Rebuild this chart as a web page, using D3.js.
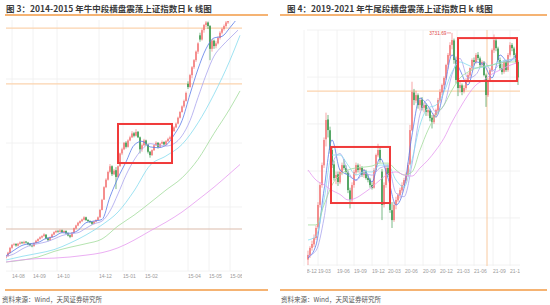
<!DOCTYPE html>
<html lang="zh">
<head>
<meta charset="UTF-8">
<title>上证指数日k线图</title>
<script src="https://d3js.org/d3.v7.min.js"></script>
<style>
  body { margin: 0; background: #fff; }
  svg { display: block; font-family: "Noto Sans CJK SC", "Noto Sans", sans-serif; }
</style>
</head>
<body>
<svg id="chart" width="550" height="305"></svg>
<script>
// ---- 图3: 2014-2015, candles [open, high, low, close]
const leftCandles = [
  [2070,2090,2062,2080],[2082,2118,2078,2110],[2108,2158,2104,2150],[2150,2182,2142,2175],
  [2176,2192,2168,2180],[2182,2190,2160,2170],[2168,2192,2162,2185],[2184,2205,2178,2195],
  [2196,2204,2182,2190],[2188,2210,2184,2200],[2202,2208,2186,2195],[2194,2200,2172,2180],
  [2182,2190,2162,2170],[2168,2178,2155,2165],[2164,2196,2160,2190],[2190,2218,2185,2210],
  [2208,2232,2200,2225],[2226,2248,2218,2240],[2238,2258,2230,2250],[2250,2275,2244,2265],
  [2262,2268,2222,2230],[2232,2240,2205,2215],[2214,2246,2210,2240],[2240,2272,2235,2265],
  [2264,2292,2258,2285],[2284,2304,2276,2295],[2296,2302,2280,2290],[2288,2310,2282,2300],
  [2302,2308,2278,2285],[2284,2302,2278,2295],[2296,2300,2268,2275],[2276,2282,2248,2255],
  [2256,2262,2232,2245],[2244,2286,2240,2280],[2280,2326,2276,2320],[2318,2352,2312,2345],
  [2344,2378,2338,2370],[2368,2392,2360,2385],[2384,2408,2376,2400],[2398,2430,2392,2420],
  [2420,2426,2386,2395],[2396,2402,2376,2385],[2386,2392,2366,2375],[2376,2384,2350,2360],
  [2360,2388,2356,2380],[2380,2402,2374,2395],[2394,2428,2390,2420],[2420,2500,2416,2490],
  [2490,2600,2486,2590],[2592,2730,2588,2720],[2720,2815,2710,2800],[2800,2900,2790,2885],
  [2886,2975,2870,2950],[2950,2960,2840,2860],[2860,2920,2850,2900],[2905,2940,2700,2830],
  [2830,2960,2820,2950],[2950,3110,2945,3100],[3100,3170,3080,3150],[3150,3240,3140,3230],
  [3232,3250,3160,3180],[3180,3275,3170,3260],[3260,3320,3250,3300],[3300,3380,3290,3350],
  [3352,3370,3300,3320],[3320,3406,3310,3370],[3372,3380,3290,3300],[3300,3310,3100,3150],
  [3150,3220,3120,3200],[3200,3280,3190,3260],[3260,3270,3190,3210],[3210,3220,3100,3120],
  [3120,3130,3049,3080],[3080,3150,3070,3140],[3140,3210,3130,3200],[3200,3250,3190,3230],
  [3230,3240,3160,3180],[3180,3230,3170,3220],[3220,3260,3210,3240],[3240,3250,3195,3210],
  [3210,3265,3200,3250],[3250,3295,3240,3280],[3280,3320,3270,3300],[3300,3395,3290,3380],
  [3380,3445,3370,3430],[3430,3495,3420,3480],[3480,3575,3470,3560],[3560,3655,3550,3640],
  [3640,3735,3630,3720],[3720,3820,3700,3800],[3800,3940,3790,3920],[4060,4100,3980,4010],
  [4010,4220,4000,4200],[4200,4350,4150,4330],[4330,4470,4300,4450],[4450,4620,4420,4600],
  [4600,4770,4560,4750],[4900,4950,4780,4820],[4820,5030,4800,5000],[5000,5120,4950,5100],
  [5100,5180,5060,5150],[5150,5170,5020,5080],[5080,5100,4450,4650],[4650,4830,4600,4800],
  [4800,4820,4650,4700],[4700,4790,4660,4750],[4750,4880,4730,4850],[4850,4980,4820,4950],
  [4950,5050,4920,5020],[5020,5110,4990,5080],[5080,5180,5050,5150],[5150,5280,5120,5250],
  [5250,5380,5220,5350],[5350,5370,5260,5300],[5300,5430,5280,5400],[5400,5480,5370,5450],
  [5450,5460,5350,5380],[5380,5400,5300,5350]
];
// moving averages, sampled at candle index
const leftShortIdx = [0,4,8,12,16,20,24,28,32,36,40,44,48,52,56,60,64,68,72,76,80,84,88,92,96,100,104,108,112,116];
const leftMaBlue     = [2085,2130,2170,2185,2195,2230,2245,2280,2275,2300,2370,2385,2400,2620,2820,3000,3200,3250,3180,3170,3200,3330,3520,3900,4300,4650,4850,4880,5050,5250];
const leftMaLavender = [2080,2100,2140,2170,2185,2200,2225,2255,2270,2280,2320,2360,2385,2480,2650,2850,3020,3150,3220,3200,3190,3220,3320,3520,3850,4200,4520,4700,4850,5000];
const leftLongIdx = [0,8,16,24,32,40,48,56,64,72,80,88,96,104,112,117];
const leftMaCyan   = [2051,2080,2105,2135,2190,2260,2350,2470,2680,2960,3070,3210,3490,3900,4450,4900];
const leftMaGreen  = [2035,2050,2075,2120,2155,2185,2225,2340,2440,2560,2690,2820,3030,3350,3690,3950];
const leftMaViolet = [2035,2052,2062,2066,2075,2090,2110,2150,2215,2295,2375,2470,2590,2720,2870,2970];
const leftTickIdx = [3,13.5,25.5,46.5,58.5,69.5,91,101.5,112];
const leftTickLabels = ["14-08","14-09","14-10","14-12","15-01","15-02","15-04","15-05","15-06"];
const leftGridVals = [1965,2519,3228,4137];
const leftRefVals = [5040,4060,2313];
const leftBox = [56,83,3475,2987];

// ---- 图4: 2019-2021
const rightCandles = [
  [2470,2520,2440,2496],[2495,2545,2480,2535],[2535,2575,2520,2557],[2555,2610,2540,2590],
  [2590,2660,2580,2646],[2650,2790,2640,2774],[2775,2900,2760,2885],[2885,3010,2870,2996],
  [2995,3150,2980,3136],[3140,3288,3100,3247],[3250,3275,3150,3191],[3190,3210,3060,3080],
  [3080,3100,2980,2996],[3000,3020,2910,2924],[2925,2960,2890,2941],[2945,2960,2880,2902],
  [2900,2975,2890,2958],[2955,3010,2940,2996],[2995,3030,2970,2980],[2980,2995,2945,2958],
  [2955,2965,2840,2857],[2855,2870,2755,2802],[2800,2900,2790,2885],[2885,2970,2870,2958],
  [2955,3010,2940,2996],[2995,3005,2955,2969],[2970,3000,2950,2980],[2980,2990,2930,2941],
  [2940,2975,2925,2958],[2960,2970,2915,2924],[2925,2945,2900,2913],[2915,2925,2870,2885],
  [2885,2900,2860,2869],[2870,2980,2865,2969],[2970,3060,2960,3052],[3050,3115,3040,3080],
  [3080,3095,3010,3024],[2960,2975,2690,2774],[2775,2900,2760,2885],[2885,3000,2870,2980],
  [2980,3000,2930,2941],[2940,2950,2730,2746],[2745,2790,2646,2690],[2690,2790,2680,2774],
  [2775,2820,2750,2802],[2800,2840,2790,2830],[2830,2870,2810,2857],[2855,2900,2840,2885],
  [2885,2925,2870,2913],[2910,2955,2895,2941],[2940,3010,2930,2996],[3000,3220,2995,3191],
  [3190,3460,3185,3403],[3400,3420,3330,3358],[3355,3410,3340,3386],[3385,3395,3310,3330],
  [3330,3370,3300,3358],[3360,3375,3300,3314],[3315,3345,3290,3330],[3330,3340,3270,3292],
  [3290,3320,3270,3303],[3300,3310,3240,3258],[3260,3275,3200,3236],[3235,3285,3225,3275],
  [3275,3310,3260,3303],[3300,3370,3290,3358],[3355,3420,3340,3403],[3400,3450,3385,3442],
  [3440,3490,3420,3481],[3480,3560,3470,3553],[3555,3620,3530,3609],[3605,3680,3590,3664],
  [3665,3731.69,3640,3692],[3690,3700,3560,3581],[3580,3600,3450,3470],[3470,3490,3380,3425],
  [3425,3460,3400,3442],[3440,3450,3385,3403],[3405,3440,3395,3425],[3425,3480,3415,3470],
  [3470,3510,3455,3497],[3495,3540,3480,3536],[3535,3590,3520,3581],[3580,3595,3550,3570],
  [3570,3620,3560,3609],[3610,3625,3580,3592],[3590,3600,3540,3553],[3555,3580,3540,3570],
  [3570,3575,3490,3497],[3495,3505,3320,3386],[3385,3480,3375,3470],[3470,3535,3460,3525],
  [3525,3645,3515,3636],[3635,3723,3620,3692],[3690,3700,3630,3647],[3645,3655,3570,3581],
  [3580,3595,3525,3536],[3535,3560,3500,3514],[3515,3580,3505,3570],[3570,3580,3515,3525],
  [3525,3620,3515,3609],[3610,3680,3600,3664],[3665,3675,3630,3647],[3645,3655,3595,3609],
  [3610,3620,3560,3570],[3570,3580,3442,3484]
];
const rightMaIdx = [0,4,8,12,16,20,24,28,32,36,40,44,48,52,56,60,64,68,72,76,80,84,88,92,96,100,104];
const rightMaBlue     = [2479,2551,2857,3136,2969,2941,2913,2969,2902,3035,2924,2774,2868,3163,3369,3325,3264,3414,3609,3525,3442,3570,3553,3481,3609,3570,3609];
const rightMaLavender = [2490,2520,2700,3000,3060,2960,2910,2950,2940,2980,2990,2840,2820,3000,3280,3360,3290,3330,3500,3590,3480,3500,3570,3520,3560,3580,3590];
const rightMaCyan     = [2579,2601,2802,3052,3052,2996,2941,2958,2958,2996,2996,2913,2874,3024,3219,3314,3330,3403,3514,3570,3553,3536,3542,3553,3570,3581,3581];
const rightMaGreen    = [2663,2663,2774,2885,2941,2969,2980,2985,2991,3007,3007,2969,2941,2958,3080,3191,3275,3330,3414,3481,3514,3536,3547,3553,3564,3570,3570];
const rightMaViolet   = [2969,2913,2886,2855,2833,2802,2813,2841,2874,2913,2946,2958,2941,2935,2980,3024,3080,3146,3236,3314,3386,3442,3470,3503,3525,3547,3564];
const rightTickIdx = [-2,5,14.5,23,32,40,48.5,57.5,66,74.5,83,92.5,101];
const rightTickLabels = ["18-12","19-03","19-06","19-09","19-12","20-03","20-06","20-09","20-12","21-03","21-06","21-09","21-12"];
const rightGridVals = [2440,2702,2963,3225,3486,3748];
const rightRefVal = 3408;
const rightRefIdx = 89.5;
const rightBoxes = [[11.5,41,3097,2785],[75,104.5,3703,3464]];
const rightPeak = {idx: 72, value: 3731.69};

const svg = d3.select("#chart");
const UP = "#f26a6a", DOWN = "#1f8a35";
const maColors = ["#5b7be8", "#aaa4ee", "#86dcef", "#a2dc9c", "#e69bf0"];

function header(x0, lineX1, lineX2, title, titleX) {
  svg.append("text").attr("x", titleX).attr("y", 11.5)
    .attr("font-size", 8.5).attr("font-weight", "bold").attr("fill", "#3a3a3a")
    .text(title);
  svg.append("line").attr("x1", lineX1).attr("x2", lineX2).attr("y1", 15).attr("y2", 15)
    .attr("stroke", "#f29a45").attr("stroke-width", 1.4);
  svg.append("line").attr("x1", lineX1).attr("x2", lineX2).attr("y1", 290).attr("y2", 290)
    .attr("stroke", "#f29a45").attr("stroke-width", 1.4);
  svg.append("text").attr("x", x0).attr("y", 302)
    .attr("font-size", 6.5).attr("fill", "#555")
    .text("资料来源：Wind，天风证券研究所");
}

function drawPanel(cfg) {
  const x = cfg.x, y = cfg.y, p = cfg.plot;
  const id = cfg.id;
  svg.append("clipPath").attr("id", id + "clip").append("rect")
    .attr("x", p.left).attr("y", p.top).attr("width", p.right - p.left).attr("height", p.bottom - p.top);
  svg.append("clipPath").attr("id", id + "lab").append("rect")
    .attr("x", p.left).attr("y", p.bottom).attr("width", p.right - p.left).attr("height", 14);

  const grid = svg.append("g");
  grid.selectAll(".hg").data(cfg.gridVals).join("line")
    .attr("x1", p.left).attr("x2", p.right)
    .attr("y1", d => y(d)).attr("y2", d => y(d))
    .attr("stroke", "#efefef").attr("stroke-width", 0.8);
  grid.selectAll(".vg").data(cfg.tickIdx).join("line")
    .attr("x1", d => x(d)).attr("x2", d => x(d))
    .attr("y1", p.gridTop).attr("y2", p.bottom)
    .attr("stroke", "#efefef").attr("stroke-width", 0.8);

  svg.append("g").attr("clip-path", `url(#${id}lab)`)
    .selectAll("text").data(cfg.tickIdx).join("text")
    .attr("x", d => x(d)).attr("y", p.bottom + 7)
    .attr("font-size", 5).attr("fill", "#9a9a9a")
    .attr("font-family", "Liberation Sans, sans-serif")
    .text((d, i) => cfg.tickLabels[i]);

  const g = svg.append("g").attr("clip-path", `url(#${id}clip)`);
  cfg.refs(g);

  const w = cfg.candleW;
  const c = g.append("g").selectAll("g").data(cfg.candles).join("g");
  c.append("line")
    .attr("x1", (d, i) => x(i)).attr("x2", (d, i) => x(i))
    .attr("y1", d => y(d[1])).attr("y2", d => y(d[2]))
    .attr("stroke", d => d[3] >= d[0] ? UP : DOWN).attr("stroke-width", 0.6);
  c.append("rect")
    .attr("x", (d, i) => x(i) - w / 2).attr("width", w)
    .attr("y", d => y(Math.max(d[0], d[3])))
    .attr("height", d => Math.max(0.6, Math.abs(y(d[0]) - y(d[3]))))
    .attr("fill", d => d[3] >= d[0] ? UP : DOWN);

  cfg.mas.forEach((m, k) => {
    const pts = m.vals.map((v, i) => [m.idx[i], v]);
    g.append("path").datum(pts)
      .attr("d", d3.line().x(d => x(d[0])).y(d => y(d[1])).curve(d3.curveMonotoneX))
      .attr("fill", "none").attr("stroke", maColors[k]).attr("stroke-width", 0.8);
  });

  cfg.boxes.forEach(b => {
    svg.append("rect")
      .attr("x", x(b[0])).attr("y", y(b[2]))
      .attr("width", x(b[1]) - x(b[0])).attr("height", y(b[3]) - y(b[2]))
      .attr("fill", "none").attr("stroke", "#f03a3a").attr("stroke-width", 2);
  });
}

// left panel
header(2, 5, 268, "图 3：2014-2015 年牛中段横盘震荡上证指数日 k 线图", 6);
const xL = d3.scaleLinear().domain([0, leftCandles.length - 1]).range([6, 240]);
const yL = d3.scaleLog().domain([2075, 5200]).range([257, 20]);
drawPanel({
  id: "l", x: xL, y: yL,
  plot: {left: 6, right: 242, top: 21, bottom: 271, gridTop: 20},
  candles: leftCandles, candleW: 1.3,
  gridVals: leftGridVals, tickIdx: leftTickIdx, tickLabels: leftTickLabels,
  refs: g => {
    g.selectAll(".ref").data(leftRefVals).join("line")
      .attr("x1", 6).attr("x2", 242)
      .attr("y1", d => yL(d)).attr("y2", d => yL(d))
      .attr("stroke", (d, i) => i < 2 ? "#fbd3ae" : "#dcbcac").attr("stroke-width", 1.2);
  },
  mas: [
    {idx: leftShortIdx, vals: leftMaBlue},
    {idx: leftShortIdx, vals: leftMaLavender},
    {idx: leftLongIdx, vals: leftMaCyan},
    {idx: leftLongIdx, vals: leftMaGreen},
    {idx: leftLongIdx, vals: leftMaViolet}
  ],
  boxes: [leftBox]
});

// right panel
header(281, 280, 547, "图 4：2019-2021 年牛尾段横盘震荡上证指数日 k 线图", 287);
const xR = d3.scaleLinear().domain([0, rightCandles.length - 1]).range([308, 518]);
const yR = d3.scaleLinear().domain([2440, 3748]).range([265, 30]);
drawPanel({
  id: "r", x: xR, y: yR,
  plot: {left: 307, right: 520, top: 28, bottom: 266, gridTop: 30},
  candles: rightCandles, candleW: 1.3,
  gridVals: rightGridVals, tickIdx: rightTickIdx, tickLabels: rightTickLabels,
  refs: g => {
    g.append("line").attr("x1", 307).attr("x2", 520)
      .attr("y1", yR(rightRefVal)).attr("y2", yR(rightRefVal))
      .attr("stroke", "#fbd3ae").attr("stroke-width", 1.2);
    g.append("line").attr("x1", xR(rightRefIdx)).attr("x2", xR(rightRefIdx))
      .attr("y1", 30).attr("y2", 268)
      .attr("stroke", "#f9caa0").attr("stroke-width", 1);
  },
  mas: [
    {idx: rightMaIdx, vals: rightMaBlue},
    {idx: rightMaIdx, vals: rightMaLavender},
    {idx: rightMaIdx, vals: rightMaCyan},
    {idx: rightMaIdx, vals: rightMaGreen},
    {idx: rightMaIdx, vals: rightMaViolet}
  ],
  boxes: rightBoxes
});

// peak marker
const px = xR(rightPeak.idx), py = yR(rightPeak.value);
svg.append("line").attr("x1", px - 5).attr("x2", px - 1).attr("y1", py).attr("y2", py)
  .attr("stroke", "#e86060").attr("stroke-width", 0.6);
svg.append("text").attr("x", px - 5.5).attr("y", py + 1.7)
  .attr("text-anchor", "end").attr("font-size", 4.8).attr("fill", "#e04848")
  .attr("font-family", "Liberation Sans, sans-serif")
  .text(rightPeak.value.toFixed(2));
</script>
</body>
</html>
